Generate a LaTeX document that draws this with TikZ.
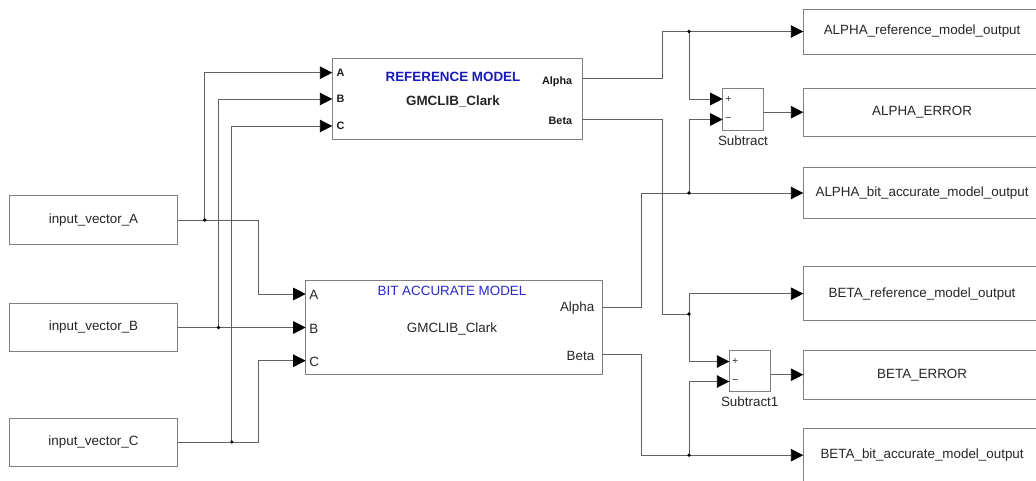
\documentclass[tikz,border=0pt]{standalone}
\usepackage{fontspec}
\setmainfont{Liberation Sans}
\usepackage{xcolor}
\usetikzlibrary{arrows.meta,positioning,calc}

\definecolor{refblue}{RGB}{25,25,185}
\definecolor{bitblue}{RGB}{40,40,205}

\begin{document}
\begin{tikzpicture}[
  x=1pt, y=-1pt,
  blk/.style={rectangle, draw=black!50, line width=0.9pt, inner sep=0pt,
    font=\fontsize{13.4}{16}\selectfont, text=black!85},
  outbox/.style={blk, anchor=west, minimum width=236.7pt},
  sig/.style={draw=black!62, line width=0.9pt},
  arrow/.style={sig, -{Triangle[length=12.5pt, width=12.5pt, color=black]}},
  txt/.style={inner sep=0pt, font=\fontsize{13.4}{16}\selectfont, text=black!85},
  smalltxt/.style={inner sep=0pt, font=\fontsize{10.8}{13}\selectfont\bfseries, text=black!90},
  sgn/.style={inner sep=0pt, font=\fontsize{10.5}{12}\selectfont, text=black!80}
]
  \useasboundingbox (0,0) rectangle (1036,481);
  \clip (0,0) rectangle (1036,481);
  \fill[white] (0,0) rectangle (1036,481);

  % inputs
  \node[blk, minimum width=168.4pt, minimum height=48.6pt] (inA) at (93.5,220) {input\_vector\_A};
  \node[blk, minimum width=168.4pt, minimum height=48.3pt] (inB) at (93.5,327.5) {input\_vector\_B};
  \node[blk, minimum width=168.4pt, minimum height=48pt] (inC) at (93.5,442) {input\_vector\_C};

  % models
  \node[blk, minimum width=249.7pt, minimum height=80.7pt] (ref) at (457.2,98.7) {};
  \node[txt, font=\fontsize{13.4}{16}\selectfont\bfseries, text=refblue] (refttl) at (453,77) {REFERENCE MODEL};
  \node[txt, font=\fontsize{13.4}{16}\selectfont\bfseries] (refname) at (453,101.7) {GMCLIB\_Clark};

  \node[blk, minimum width=296.3pt, minimum height=93.6pt] (bit) at (453.9,327.5) {};
  \node[txt, text=bitblue] (bitttl) at (452,290.7) {BIT ACCURATE MODEL};
  \node[txt] (bitname) at (452,329) {GMCLIB\_Clark};

  % ports
  \coordinate (refA) at (332.3,72.7);
  \coordinate (refB) at (332.3,99);
  \coordinate (refC) at (332.3,126);
  \coordinate (refAl) at (582,78.7);
  \coordinate (refBe) at (582,119);
  \coordinate (bitA) at (305.7,294);
  \coordinate (bitB) at (305.7,327.5);
  \coordinate (bitC) at (305.7,360.7);
  \coordinate (bitAl) at (602,307.3);
  \coordinate (bitBe) at (602,354.7);

  \node[smalltxt, anchor=west] (refAtxt) at ($(refA)+(4,0)$) {A};
  \node[smalltxt, anchor=west] (refBtxt) at ($(refB)+(4,0)$) {B};
  \node[smalltxt, anchor=west] (refCtxt) at ($(refC)+(4,0)$) {C};
  \node[smalltxt, anchor=east] (refAltxt) at (572.3,81.7) {Alpha};
  \node[smalltxt, anchor=east] (refBetxt) at (572.3,121) {Beta};
  \node[txt, anchor=west] (bitAtxt) at ($(bitA)+(3.5,1)$) {A};
  \node[txt, anchor=west] (bitBtxt) at ($(bitB)+(3.5,1)$) {B};
  \node[txt, anchor=west] (bitCtxt) at ($(bitC)+(3.5,1)$) {C};
  \node[txt, anchor=east] (bitAltxt) at (594.5,308.3) {Alpha};
  \node[txt, anchor=east] (bitBetxt) at (594.5,355.7) {Beta};

  % subtractors
  \node[blk, minimum width=40.6pt, minimum height=42pt] (sub) at (743,109) {};
  \node[txt] (sublbl) at (743,140.5) {Subtract};
  \coordinate (subP) at (722.7,99);
  \coordinate (subM) at (722.7,119.5);
  \node[sgn, anchor=west] (subPtxt) at ($(subP)+(2.5,0)$) {+};
  \node[sgn, anchor=west] (subMtxt) at ($(subM)+(2.5,0)$) {−};

  \node[blk, minimum width=40.7pt, minimum height=41pt] (sub1) at (749.7,371.2) {};
  \node[txt] (sub1lbl) at (749.7,402) {Subtract1};
  \coordinate (sub1P) at (729.3,361.5);
  \coordinate (sub1M) at (729.3,381.5);
  \node[sgn, anchor=west] (sub1Ptxt) at ($(sub1P)+(2.5,0)$) {+};
  \node[sgn, anchor=west] (sub1Mtxt) at ($(sub1M)+(2.5,0)$) {−};

  % outputs
  \node[outbox, minimum height=45pt] (oAref) at (803.3,31.5) {ALPHA\_reference\_model\_output};
  \node[outbox, minimum height=47.7pt] (oAerr) at (803.3,112.2) {ALPHA\_ERROR};
  \node[outbox, minimum height=50.6pt] (oAbit) at (803.3,193) {ALPHA\_bit\_accurate\_model\_output};
  \node[outbox, minimum height=54pt] (oBref) at (803.3,293.7) {BETA\_reference\_model\_output};
  \node[outbox, minimum height=48.7pt] (oBerr) at (803.3,374.7) {BETA\_ERROR};
  \node[outbox, minimum height=53.7pt] (oBbit) at (803.3,455.2) {BETA\_bit\_accurate\_model\_output};

  % junctions
  \coordinate (jA) at (204.7,220);
  \coordinate (jB) at (218.5,327.5);
  \coordinate (jC) at (231.8,442);
  \coordinate (jAl1) at (689,31.5);
  \coordinate (jAl2) at (689,193);
  \coordinate (jBe1) at (689,314);
  \coordinate (jBe2) at (689,455.2);

  \draw[arrow] (inA.east) -- ++(80.6,0) |- (bitA);
  \draw[arrow] (jA) |- (refA);
  \draw[arrow] (inB.east) -- (bitB);
  \draw[arrow] (jB) |- (refB);
  \draw[arrow] (inC.east) -- ++(80.6,0) |- (bitC);
  \draw[arrow] (jC) |- (refC);

  \draw[arrow] (refAl) -- ++(80.3,0) |- (oAref.west);
  \draw[arrow] (jAl1) |- (subP);
  \draw[arrow] (jAl2) |- (subM);
  \draw[arrow] (bitAl) -- ++(39.7,0) |- (oAbit.west);
  \draw[arrow] (sub.east |- oAerr.west) -- (oAerr.west);

  \draw[sig] (refBe) -- ++(80.3,0) |- (jBe1);
  \draw[arrow] (jBe1) |- (oBref.west);
  \draw[arrow] (jBe1) |- (sub1P);
  \draw[arrow] (bitBe) -- ++(39.7,0) |- (oBbit.west);
  \draw[arrow] (jBe2) |- (sub1M);
  \draw[arrow] (sub1.east |- oBerr.west) -- (oBerr.west);

  \foreach \j in {jA,jB,jC,jAl1,jAl2,jBe1,jBe2}
    \fill[black] (\j) circle (1.8);
\end{tikzpicture}
\end{document}
